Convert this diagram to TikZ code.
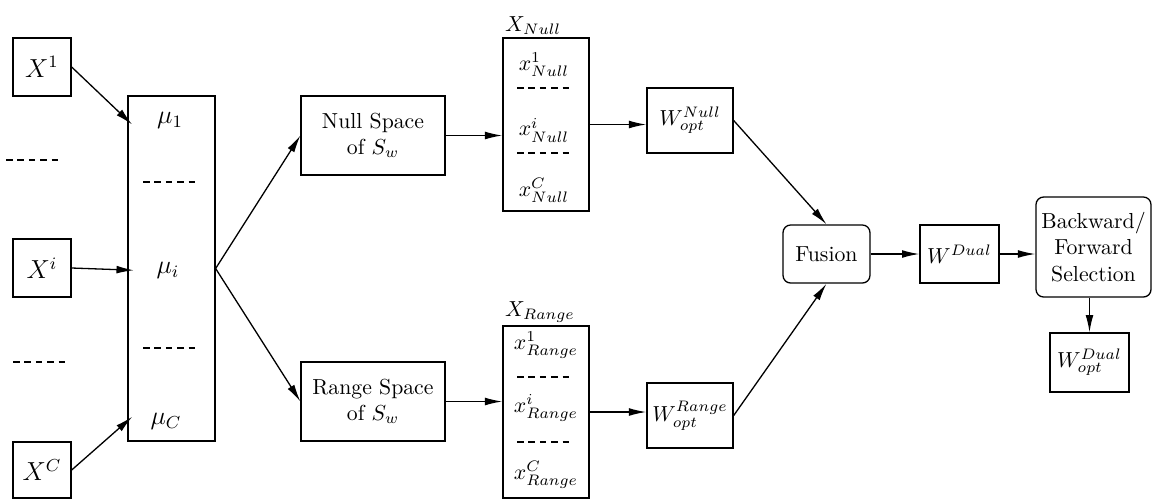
\documentclass[tikz,border=0pt]{standalone}
\usepackage{amsmath,amssymb}
\usepackage{tikz}
\usetikzlibrary{arrows.meta}

\begin{document}
\begin{tikzpicture}[x=0.46pt, y=-0.46pt, >={Latex[length=8pt,width=3.6pt]}, line width=0.6pt]
  \tikzstyle{blk}=[draw, inner sep=1pt, align=center]
  \tikzstyle{rblk}=[draw, rounded corners=3.5pt, inner sep=1pt, align=center]
  \tikzstyle{sepline}=[line width=0.5pt, dash pattern=on 3pt off 2.25pt]
  \useasboundingbox (0,0) rectangle (1158,499);
  % class samples
  \node[blk, minimum width=26.7pt, minimum height=26.7pt, font=\large] (x1) at (42,67) {$X^1$};
  \node[blk, minimum width=26.7pt, minimum height=26.7pt, font=\large] (xi) at (42,268) {$X^i$};
  \node[blk, minimum width=26.7pt, minimum height=25.8pt, font=\large] (xc) at (42,470) {$X^C$};
  \draw[sepline] (6,160) -- (58,160);
  \draw[sepline] (13,362) -- (65,362);
  % class means
  \node[blk, minimum width=40pt, minimum height=158.7pt] (mu) at (171.5,268.5) {};
  \node[font=\large] (m1) at (170,120) {$\mu_1$};
  \node[font=\large] (mi) at (168,270) {$\mu_i$};
  \node[font=\large] (mc) at (166,421) {$\mu_C$};
  \draw[sepline] (143,182) -- (195,182);
  \draw[sepline] (143,348) -- (195,348);
  \draw[->, shorten >=-3pt] (x1.east) -- (m1 -| mu.west);
  \draw[->, shorten >=-3pt] (xi.east) -- (mi -| mu.west);
  \draw[->, shorten >=-3pt] (xc.east) -- (mc -| mu.west);
  % projections
  \node[blk, minimum width=66.2pt, minimum height=36.3pt] (null) at (373,135.5) {Null Space\\of $S_w$};
  \node[blk, minimum width=66.2pt, minimum height=36.3pt] (range) at (373,401.5) {Range Space\\of $S_w$};
  \draw[->] (mu.east) -- (null.west);
  \draw[->] (mu.east) -- (range.west);
  % projected samples
  \node[blk, minimum width=39.6pt, minimum height=79.6pt] (xnull) at (546,124.5) {};
  \node[anchor=south west, inner sep=1pt] (lnull) at (xnull.north west) {$X_{Null}$};
  \node (n1) at (544,65) {$x^1_{Null}$};
  \node (ni) at (544,130) {$x^i_{Null}$};
  \node (nc) at (544,190) {$x^C_{Null}$};
  \draw[sepline] (517,88) -- (569,88);
  \draw[sepline] (517,153) -- (569,153);
  \node[blk, minimum width=39.6pt, minimum height=79.2pt] (xrange) at (546,412) {};
  \node[anchor=south west, inner sep=1pt] (lrange) at (xrange.north west) {$X_{Range}$};
  \node (r1) at (546,345) {$x^1_{Range}$};
  \node (ri) at (546,408) {$x^i_{Range}$};
  \node (rc) at (546,475) {$x^C_{Range}$};
  \draw[sepline] (517,377) -- (569,377);
  \draw[sepline] (517,442) -- (569,442);
  \draw[->] (null.east) -- (null.east -| xnull.west);
  \draw[->] (range.east) -- (range.east -| xrange.west);
  % optimal projections
  \node[blk, minimum width=39.6pt, minimum height=29.9pt] (wnull) at (690,120.5) {$W^{Null}_{opt}$};
  \node[blk, minimum width=39.6pt, minimum height=29.9pt] (wrange) at (690,415.5) {$W^{Range}_{opt}$};
  \draw[->] (xnull.east) -- (xnull.east -| wnull.west);
  \draw[->] (xrange.east) -- (xrange.east -| wrange.west);
  % fusion and selection
  \node[rblk, minimum width=40pt, minimum height=26.7pt] (fusion) at (826.5,254) {Fusion};
  \draw[->] (wnull.east) -- (fusion.north);
  \draw[->] (wrange.east) -- (fusion.south);
  \node[blk, minimum width=36.3pt, minimum height=26.7pt] (wdual) at (959.5,254) {$W^{Dual}$};
  \node[rblk, minimum width=52.9pt, minimum height=46pt] (select) at (1093.5,247) {Backward/\\Forward\\Selection};
  \node[blk, minimum width=36.3pt, minimum height=27.1pt] (wopt) at (1089.5,362.5) {$W^{Dual}_{opt}$};
  \draw[->] (fusion.east) -- (wdual.west);
  \draw[->] (wdual.east) -- (wdual.east -| select.west);
  \draw[->] (select.south -| wopt.north) -- (wopt.north);
\end{tikzpicture}
\end{document}
